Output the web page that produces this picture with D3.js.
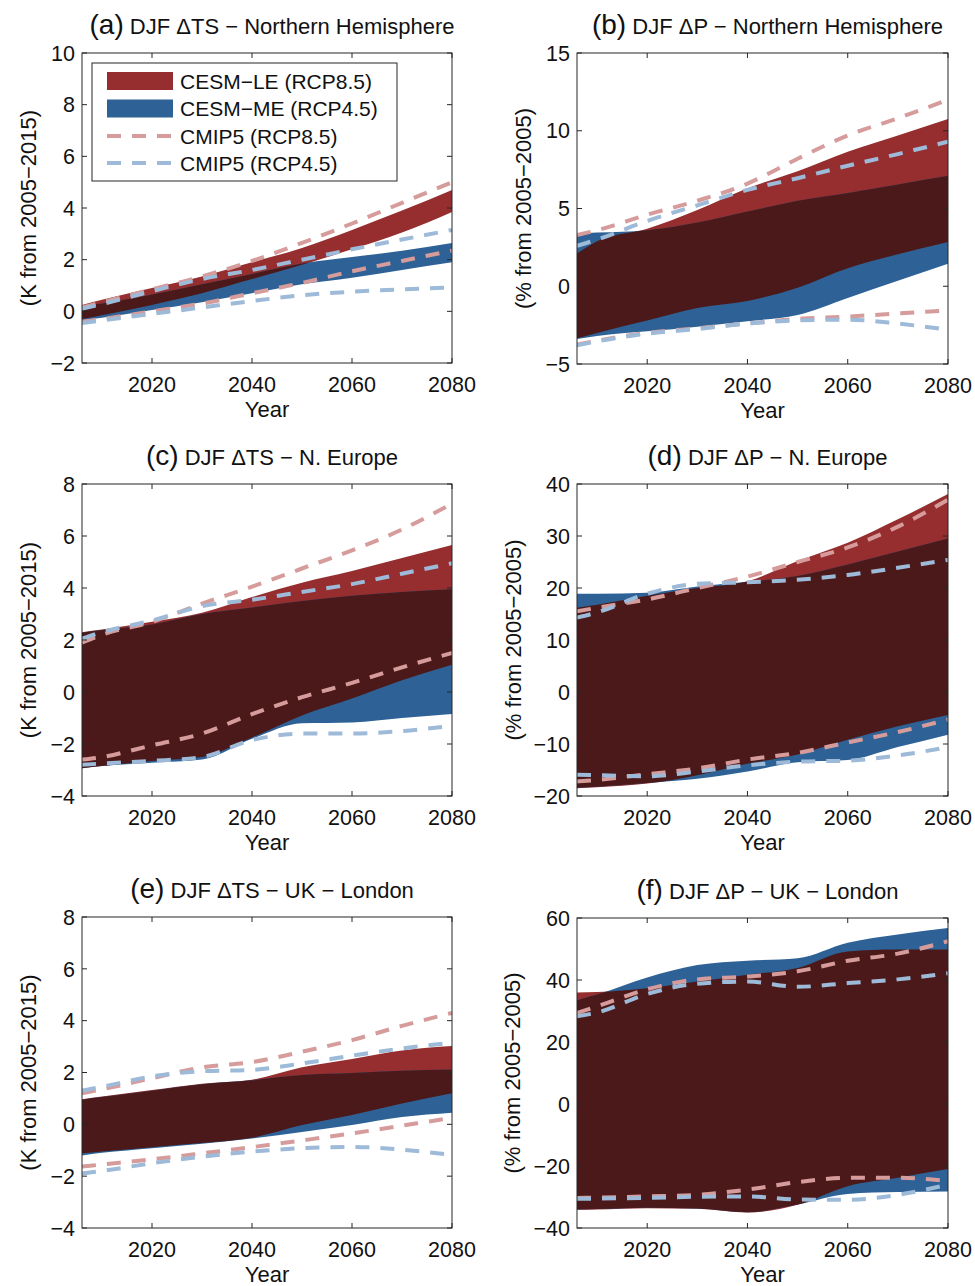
<!DOCTYPE html>
<html>
<head>
<meta charset="utf-8">
<script src="https://cdn.jsdelivr.net/npm/d3@7"></script>
<style>
  html, body { margin: 0; padding: 0; background: #fff; }
  svg { display: block; font-family: "Liberation Sans", Arial, Helvetica, sans-serif; }
</style>
</head>
<body>
<svg id="chart" width="975" height="1286"></svg>
<script>
// Sample years shared by every series
const years = [2006, 2010, 2020, 2030, 2040, 2050, 2060, 2070, 2080];
const xTicks = [2020, 2040, 2060, 2080];

// (a) DJF ΔTS – Northern Hemisphere (K)
const nhTsLeHi   = [0.25, 0.45, 0.9, 1.35, 1.9, 2.45, 3.15, 3.9, 4.7];
const nhTsLeLo   = [-0.3, -0.15, 0.25, 0.7, 1.25, 1.8, 2.4, 3.05, 3.85];
const nhTsMeHi   = [0.2, 0.3, 0.65, 1.05, 1.45, 1.85, 2.1, 2.35, 2.65];
const nhTsMeLo   = [-0.35, -0.25, 0.05, 0.35, 0.7, 1.05, 1.3, 1.6, 1.9];
const nhTsC85Hi  = [0.15, 0.35, 0.85, 1.35, 1.95, 2.65, 3.4, 4.2, 5.0];
const nhTsC85Lo  = [-0.4, -0.3, 0.0, 0.3, 0.7, 1.1, 1.55, 1.95, 2.35];
const nhTsC45Hi  = [0.1, 0.28, 0.78, 1.25, 1.6, 2.0, 2.4, 2.78, 3.15];
const nhTsC45Lo  = [-0.45, -0.35, -0.1, 0.15, 0.4, 0.62, 0.76, 0.85, 0.92];
const nhTsTicks  = [-2, 0, 2, 4, 6, 8, 10];

// (b) DJF ΔP – Northern Hemisphere (%)
const nhPLeHi    = [2.1, 2.9, 3.7, 4.9, 6.3, 7.4, 8.65, 9.7, 10.75];
const nhPLeLo    = [-3.35, -3.0, -2.2, -1.4, -0.95, -0.1, 1.15, 2.05, 2.85];
const nhPMeHi    = [3.4, 3.45, 3.6, 4.1, 4.8, 5.5, 6.0, 6.55, 7.1];
const nhPMeLo    = [-3.4, -3.2, -2.9, -2.6, -2.25, -1.85, -0.75, 0.35, 1.45];
const nhPC85Hi   = [3.3, 3.6, 4.6, 5.5, 6.6, 8.2, 9.7, 10.8, 12.0];
const nhPC85Lo   = [-3.75, -3.5, -3.0, -2.7, -2.4, -2.1, -1.95, -1.75, -1.55];
const nhPC45Hi   = [2.6, 3.0, 4.2, 5.2, 6.2, 6.95, 7.75, 8.5, 9.3];
const nhPC45Lo   = [-3.8, -3.55, -3.05, -2.75, -2.4, -2.2, -2.15, -2.4, -2.8];
const nhPTicks   = [-5, 0, 5, 10, 15];

// (c) DJF ΔTS – N. Europe (K)
const euTsLeHi   = [2.3, 2.4, 2.7, 3.05, 3.65, 4.2, 4.65, 5.15, 5.65];
const euTsLeLo   = [-2.93, -2.85, -2.65, -2.5, -1.75, -0.9, -0.25, 0.45, 1.05];
const euTsMeHi   = [2.28, 2.38, 2.6, 3.0, 3.25, 3.5, 3.7, 3.85, 3.95];
const euTsMeLo   = [-2.93, -2.85, -2.72, -2.6, -1.8, -1.2, -1.17, -1.0, -0.85];
const euTsC85Hi  = [1.9, 2.2, 2.7, 3.4, 4.05, 4.75, 5.45, 6.25, 7.25];
const euTsC85Lo  = [-2.6, -2.5, -2.05, -1.6, -0.85, -0.2, 0.35, 0.95, 1.5];
const euTsC45Hi  = [2.05, 2.3, 2.75, 3.3, 3.55, 3.85, 4.15, 4.55, 4.95];
const euTsC45Lo  = [-2.8, -2.75, -2.65, -2.5, -1.85, -1.6, -1.6, -1.5, -1.3];
const euTsTicks  = [-4, -2, 0, 2, 4, 6, 8];

// (d) DJF ΔP – N. Europe (%)
const euPLeHi    = [16.2, 16.8, 18.5, 20.0, 21.3, 25.2, 28.7, 33.2, 38.1];
const euPLeLo    = [-18.5, -18.3, -17.6, -16.0, -13.8, -12.0, -9.2, -6.6, -4.4];
const euPMeHi    = [18.9, 18.9, 19.1, 20.3, 21.2, 22.3, 24.5, 27.0, 29.5];
const euPMeLo    = [-18.4, -18.2, -17.5, -16.7, -15.3, -13.5, -13.1, -10.6, -8.2];
const euPC85Hi   = [15.5, 16.2, 17.8, 20.0, 22.2, 25.0, 27.8, 31.8, 37.0];
const euPC85Lo   = [-17.2, -16.9, -15.8, -14.7, -13.0, -11.7, -9.7, -7.7, -5.3];
const euPC45Hi   = [14.3, 15.3, 18.9, 20.8, 21.1, 21.6, 22.5, 23.9, 25.4];
const euPC45Lo   = [-15.9, -16.0, -16.2, -15.3, -14.1, -13.4, -13.2, -12.2, -10.6];
const euPTicks   = [-20, -10, 0, 10, 20, 30, 40];

// (e) DJF ΔTS – UK – London (K)
const ldTsLeHi   = [0.97, 1.07, 1.32, 1.57, 1.72, 2.2, 2.52, 2.85, 3.02];
const ldTsLeLo   = [-1.12, -1.05, -0.88, -0.72, -0.52, -0.03, 0.36, 0.8, 1.2];
const ldTsMeHi   = [0.95, 1.05, 1.3, 1.55, 1.7, 1.9, 1.98, 2.07, 2.12];
const ldTsMeLo   = [-1.2, -1.1, -0.92, -0.75, -0.55, -0.3, -0.03, 0.28, 0.45];
const ldTsC85Hi  = [1.2, 1.35, 1.78, 2.2, 2.4, 2.8, 3.25, 3.8, 4.3];
const ldTsC85Lo  = [-1.63, -1.55, -1.35, -1.12, -0.88, -0.62, -0.35, -0.05, 0.25];
const ldTsC45Hi  = [1.3, 1.45, 1.85, 2.05, 2.1, 2.35, 2.65, 2.93, 3.15];
const ldTsC45Lo  = [-1.9, -1.8, -1.5, -1.25, -1.05, -0.92, -0.87, -0.98, -1.18];
const ldTsTicks  = [-4, -2, 0, 2, 4, 6, 8];

// (f) DJF ΔP – UK – London (%)
const ldPLeHi    = [36.0, 36.1, 37.3, 39.5, 41.7, 43.9, 49.2, 49.8, 49.8];
const ldPLeLo    = [-34.1, -34.0, -33.6, -33.8, -35.0, -32.5, -26.5, -23.8, -21.0];
const ldPMeHi    = [33.5, 35.3, 40.8, 44.8, 46.2, 47.0, 52.0, 54.7, 56.8];
const ldPMeLo    = [-34.0, -33.9, -33.5, -33.7, -34.9, -32.4, -29.0, -28.4, -28.2];
const ldPC85Hi   = [29.4, 31.5, 37.0, 40.2, 41.1, 42.8, 46.2, 48.5, 52.5];
const ldPC85Lo   = [-30.3, -30.2, -29.8, -29.3, -27.6, -25.2, -23.8, -23.8, -24.9];
const ldPC45Hi   = [28.3, 29.5, 35.5, 38.8, 39.5, 37.8, 39.0, 40.2, 42.2];
const ldPC45Lo   = [-30.6, -30.5, -30.3, -29.9, -29.8, -30.8, -30.9, -29.3, -26.0];
const ldPTicks   = [-40, -20, 0, 20, 40, 60];

// Legend entries
const legendLabels = ["CESM\u2212LE (RCP8.5)", "CESM\u2212ME (RCP4.5)", "CMIP5 (RCP8.5)", "CMIP5 (RCP4.5)"];

// Colours
const C = {
  le: "#962d2e",
  me: "#2e6296",
  both: "#4b1919",
  c85: "#d69c9c",
  c45: "#9dbad8",
  axis: "#262626",
  text: "#111"
};

// Panel definitions: data references
const panels = [
  { id: "a", tag: "(a)", title: " DJF \u0394TS \u2212 Northern Hemisphere", ylab: "(K from 2005\u22122015)",
    dom: [-2, 10], ticks: nhTsTicks,
    le: [nhTsLeLo, nhTsLeHi], me: [nhTsMeLo, nhTsMeHi], c85: [nhTsC85Lo, nhTsC85Hi], c45: [nhTsC45Lo, nhTsC45Hi], legend: true },
  { id: "b", tag: "(b)", title: " DJF \u0394P \u2212 Northern Hemisphere", ylab: "(% from 2005\u22122005)",
    dom: [-5, 15], ticks: nhPTicks,
    le: [nhPLeLo, nhPLeHi], me: [nhPMeLo, nhPMeHi], c85: [nhPC85Lo, nhPC85Hi], c45: [nhPC45Lo, nhPC45Hi] },
  { id: "c", tag: "(c)", title: " DJF \u0394TS \u2212 N. Europe", ylab: "(K from 2005\u22122015)",
    dom: [-4, 8], ticks: euTsTicks,
    le: [euTsLeLo, euTsLeHi], me: [euTsMeLo, euTsMeHi], c85: [euTsC85Lo, euTsC85Hi], c45: [euTsC45Lo, euTsC45Hi] },
  { id: "d", tag: "(d)", title: " DJF \u0394P \u2212 N. Europe", ylab: "(% from 2005\u22122005)",
    dom: [-20, 40], ticks: euPTicks,
    le: [euPLeLo, euPLeHi], me: [euPMeLo, euPMeHi], c85: [euPC85Lo, euPC85Hi], c45: [euPC45Lo, euPC45Hi] },
  { id: "e", tag: "(e)", title: " DJF \u0394TS \u2212 UK \u2212 London", ylab: "(K from 2005\u22122015)",
    dom: [-4, 8], ticks: ldTsTicks,
    le: [ldTsLeLo, ldTsLeHi], me: [ldTsMeLo, ldTsMeHi], c85: [ldTsC85Lo, ldTsC85Hi], c45: [ldTsC45Lo, ldTsC45Hi] },
  { id: "f", tag: "(f)", title: " DJF \u0394P \u2212 UK \u2212 London", ylab: "(% from 2005\u22122005)",
    dom: [-40, 60], ticks: ldPTicks,
    le: [ldPLeLo, ldPLeHi], me: [ldPMeLo, ldPMeHi], c85: [ldPC85Lo, ldPC85Hi], c45: [ldPC45Lo, ldPC45Hi] }
];

// Axes boxes (pixel frames) and y-label offsets
const frames = {
  a: { x0: 82,  x1: 452, y0: 53,  y1: 363,  labOff: 46 },
  b: { x0: 577, x1: 948, y0: 53,  y1: 364,  labOff: 46 },
  c: { x0: 82,  x1: 452, y0: 484, y1: 796,  labOff: 46 },
  d: { x0: 577, x1: 948, y0: 484, y1: 796,  labOff: 56 },
  e: { x0: 82,  x1: 452, y0: 917, y1: 1228, labOff: 46 },
  f: { x0: 577, x1: 948, y0: 918, y1: 1228, labOff: 57 }
};

const svg = d3.select("#chart");
const defs = svg.append("defs");
const fmt = v => (v < 0 ? "\u2212" + Math.abs(v) : String(v));
const FS = 21.5;
const DASH = "14,11";

panels.forEach(p => {
  const f = frames[p.id];
  const x = d3.scaleLinear().domain([2006, 2080]).range([f.x0, f.x1]);
  const y = d3.scaleLinear().domain(p.dom).range([f.y1, f.y0]);
  const g = svg.append("g");

  defs.append("clipPath").attr("id", "plot-" + p.id)
    .append("rect").attr("x", f.x0).attr("y", f.y0).attr("width", f.x1 - f.x0).attr("height", f.y1 - f.y0);

  const band = ([lo, hi]) => d3.area()
    .curve(d3.curveMonotoneX)
    .x((d, i) => x(years[i]))
    .y0((d, i) => y(lo[i]))
    .y1((d, i) => y(hi[i]))(years);
  const line = vals => d3.line()
    .curve(d3.curveMonotoneX)
    .x((d, i) => x(years[i]))
    .y((d, i) => y(vals[i]))(years);

  const leD = band(p.le);
  const meD = band(p.me);

  defs.append("clipPath").attr("id", "le-" + p.id).append("path").attr("d", leD);

  const plot = g.append("g").attr("clip-path", `url(#plot-${p.id})`);
  plot.append("path").attr("d", leD).attr("fill", C.le);
  plot.append("path").attr("d", meD).attr("fill", C.me);
  // overlap of the two ensembles
  plot.append("g").attr("clip-path", `url(#le-${p.id})`)
    .append("path").attr("d", meD).attr("fill", C.both);

  const dashed = (vals, col) => plot.append("path").attr("d", line(vals))
    .attr("fill", "none").attr("stroke", col).attr("stroke-width", 4)
    .attr("stroke-dasharray", DASH);
  dashed(p.c85[1], C.c85);
  dashed(p.c85[0], C.c85);
  dashed(p.c45[1], C.c45);
  dashed(p.c45[0], C.c45);

  // axes: ticks drawn inward on all four sides
  const tl = 5;
  const ax = g.append("g").attr("stroke", C.axis).attr("stroke-width", 1).attr("fill", "none");
  ax.append("rect").attr("x", f.x0).attr("y", f.y0).attr("width", f.x1 - f.x0).attr("height", f.y1 - f.y0);
  xTicks.forEach(t => {
    ax.append("line").attr("x1", x(t)).attr("x2", x(t)).attr("y1", f.y1).attr("y2", f.y1 - tl);
    ax.append("line").attr("x1", x(t)).attr("x2", x(t)).attr("y1", f.y0).attr("y2", f.y0 + tl);
  });
  p.ticks.forEach(t => {
    ax.append("line").attr("x1", f.x0).attr("x2", f.x0 + tl).attr("y1", y(t)).attr("y2", y(t));
    ax.append("line").attr("x1", f.x1).attr("x2", f.x1 - tl).attr("y1", y(t)).attr("y2", y(t));
  });

  // tick labels
  g.append("g").selectAll("text").data(xTicks).join("text")
    .attr("x", d => x(d)).attr("y", f.y1 + 29)
    .attr("text-anchor", "middle").attr("font-size", FS).attr("fill", C.text)
    .text(d => d);
  g.append("g").selectAll("text").data(p.ticks).join("text")
    .attr("x", f.x0 - 7).attr("y", d => y(d)).attr("dy", "0.36em")
    .attr("text-anchor", "end").attr("font-size", FS).attr("fill", C.text)
    .text(fmt);

  // axis titles
  g.append("text").attr("x", (f.x0 + f.x1) / 2).attr("y", f.y1 + 54)
    .attr("text-anchor", "middle").attr("font-size", 22).attr("fill", C.text).text("Year");
  g.append("text")
    .attr("transform", `translate(${f.x0 - f.labOff},${(f.y0 + f.y1) / 2}) rotate(-90)`)
    .attr("text-anchor", "middle").attr("font-size", 22).attr("fill", C.text).text(p.ylab);

  // panel title
  const tt = g.append("text").attr("x", (f.x0 + f.x1) / 2 + 5).attr("y", f.y0 - 19)
    .attr("text-anchor", "middle").attr("fill", C.text);
  tt.append("tspan").attr("font-size", 28).text(p.tag);
  tt.append("tspan").attr("font-size", 22).text(p.title);

  if (p.legend) {
    const lg = g.append("g");
    lg.append("rect").attr("x", 92).attr("y", 63).attr("width", 305).attr("height", 118)
      .attr("fill", "#fff").attr("stroke", C.axis).attr("stroke-width", 1);
    const rows = [81, 108.5, 136, 163];
    const kinds = [
      { type: "patch", col: C.le },
      { type: "patch", col: C.me },
      { type: "line", col: C.c85 },
      { type: "line", col: C.c45 }
    ];
    kinds.forEach((k, i) => {
      if (k.type === "patch") {
        lg.append("rect").attr("x", 107).attr("y", rows[i] - 9).attr("width", 66).attr("height", 18).attr("fill", k.col);
      } else {
        lg.append("line").attr("x1", 107).attr("x2", 173).attr("y1", rows[i]).attr("y2", rows[i])
          .attr("stroke", k.col).attr("stroke-width", 4).attr("stroke-dasharray", DASH);
      }
      lg.append("text").attr("x", 180).attr("y", rows[i]).attr("dy", "0.36em")
        .attr("font-size", 21).attr("fill", C.text).text(legendLabels[i]);
    });
  }
});
</script>
</body>
</html>
